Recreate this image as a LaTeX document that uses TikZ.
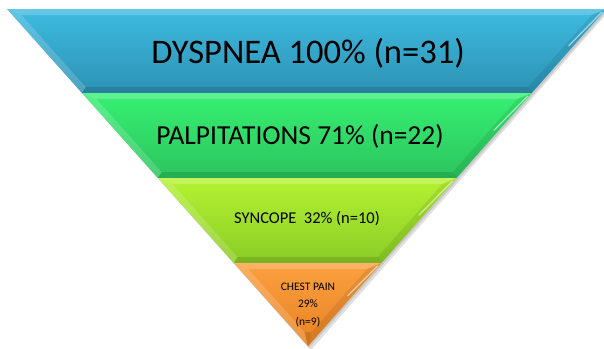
\documentclass[tikz,border=0pt]{standalone}
\usepackage{fontspec}
\setmainfont{Carlito}
\usetikzlibrary{calc}
\definecolor{blueT}{HTML}{3EBBE0}
\definecolor{blueB}{HTML}{2C92B4}
\definecolor{greenT}{HTML}{36F072}
\definecolor{greenB}{HTML}{2CC45E}
\definecolor{limeT}{HTML}{B4F232}
\definecolor{limeB}{HTML}{8ACC26}
\definecolor{orangeT}{HTML}{FBA040}
\definecolor{orangeB}{HTML}{E88222}
\newcommand\funnelband[4]{%
  \pgfmathsetmacro\La{7+0.893*(#1-9)}%
  \pgfmathsetmacro\Lb{7+0.893*(#2-9)}%
  \pgfmathsetmacro\Ra{606-0.884*(#1-9)}%
  \pgfmathsetmacro\Rb{606-0.884*(#2-9)}%
  \pgfmathsetmacro\ia{#1+6}%
  \pgfmathsetmacro\ib{(#2>340)?(#2-14):(#2-6)}%
  \pgfmathsetmacro\Lia{7+0.893*(\ia-9)+9}%
  \pgfmathsetmacro\Lib{7+0.893*(\ib-9)+9}%
  \pgfmathsetmacro\Ria{606-0.884*(\ia-9)-9}%
  \pgfmathsetmacro\Rib{606-0.884*(\ib-9)-9}%
  \shade[top color=#3, bottom color=#4]
    (\La,#1) -- (\Ra,#1) -- (\Rb,#2) -- (\Lb,#2) -- cycle;
  \fill[white, opacity=.20] (\La,#1) -- (\Ra,#1) -- (\Ria,\ia) -- (\Lia,\ia) -- cycle;
  \fill[white, opacity=.16] (\La,#1) -- (\Lia,\ia) -- (\Lib,\ib) -- (\Lb,#2) -- cycle;
  \fill[black, opacity=.08] (\Ra,#1) -- (\Rb,#2) -- (\Rib,\ib) -- (\Ria,\ia) -- cycle;
  \fill[black, opacity=.12] (\Lb,#2) -- (\Rb,#2) -- (\Rib,\ib) -- (\Lib,\ib) -- cycle;
  \draw[white, opacity=.55, line width=1.2pt, line cap=round]
    (\Ra-4,#1+3) -- ($(\Ra-4,#1+3)!0.45!(\Rib,\ib)$);
}
\begin{document}
\begin{tikzpicture}[x=1pt,y=-1pt,
  lbl/.style={inner sep=0pt, text=black, align=center}]
\useasboundingbox (0,0) rectangle (604,348);
\clip (0,0) rectangle (604,348);
\fill[white] (0,0) rectangle (604,348);
% shadow
\fill[black, opacity=.12] (9,11) -- (609,11) -- (311,350) -- cycle;
\fill[black, opacity=.10] (8,10) -- (608,10) -- (309,348) -- cycle;
\funnelband{9}{93}{blueT}{blueB}
\funnelband{93}{178}{greenT}{greenB}
\funnelband{178}{263}{limeT}{limeB}
\funnelband{263}{346}{orangeT}{orangeB}
\node[lbl, font=\fontsize{34.5}{38}\selectfont] (dys) at (308,53) {DYSPNEA 100\% (n=31)};
\node[lbl, font=\fontsize{27.5}{30}\selectfont] (pal) at (300,136) {PALPITATIONS 71\% (n=22)};
\node[lbl, font=\fontsize{16.5}{18}\selectfont] (syn) at (307,219) {SYNCOPE\ \ 32\% (n=10)};
\node[lbl, font=\fontsize{11.5}{17.5}\selectfont] (che) at (308,305) {CHEST PAIN\\29\%\\(n=9)};
\end{tikzpicture}
\end{document}
